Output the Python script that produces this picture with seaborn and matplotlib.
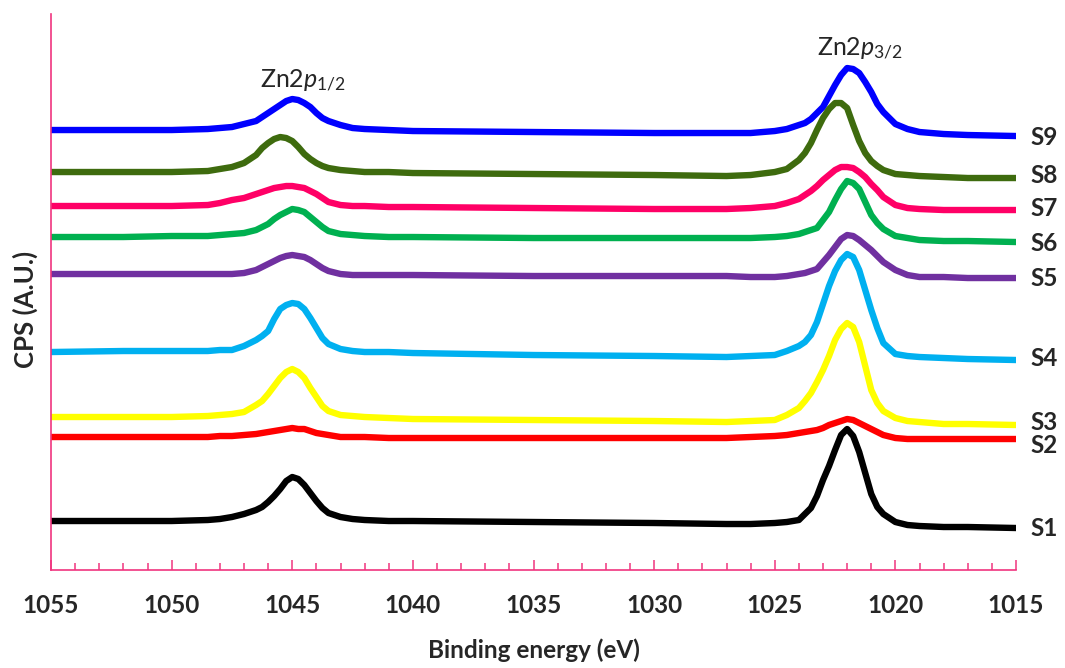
import matplotlib
matplotlib.use("Agg")
import matplotlib.pyplot as plt
import matplotlib.transforms as mtransforms
from matplotlib.ticker import MultipleLocator
import pandas as pd
import seaborn as sns

# Binding energy grid (eV), denser around the two Zn 2p peaks
energy = ([1055, 1052, 1050]
          + [1048.5, 1048, 1047.5, 1047, 1046.5, 1046.25, 1046, 1045.75, 1045.5,
             1045.25, 1045, 1044.75, 1044.5, 1044.25, 1044, 1043.75, 1043.5,
             1043, 1042.5, 1042, 1041]
          + [1040, 1035, 1030, 1027]
          + [1026, 1025, 1024.5, 1024, 1023.75, 1023.5, 1023.25, 1023, 1022.75,
             1022.5, 1022.25, 1022, 1021.75, 1021.5, 1021.25, 1021, 1020.75,
             1020.5, 1020, 1019.5]
          + [1019, 1018, 1017, 1015])

# Stacked XPS intensities (arbitrary units, offset per sample)
s1 = ([49, 49, 49]
      + [50, 51, 53, 56, 60, 63, 68, 74, 81, 89, 93, 91, 85, 77, 69, 62, 57, 53, 51, 50, 49]
      + [49, 48, 47, 46]
      + [46, 47, 48, 50, 56, 62, 74, 90, 104, 120, 135, 141, 134, 118, 97, 76, 63, 56, 48, 45]
      + [44, 43, 43, 42])
s2 = ([133, 133, 133]
      + [133, 134, 134, 135, 136, 137, 138, 139, 140, 141, 142, 141, 141, 139, 137, 136, 135, 133, 133, 133, 132]
      + [132, 132, 132, 132]
      + [133, 134, 135, 137, 138, 139, 140, 142, 145, 147, 149, 151, 150, 147, 144, 141, 138, 135, 132, 131]
      + [131, 131, 131, 131])
s3 = ([153, 153, 153]
      + [154, 155, 156, 158, 165, 169, 176, 184, 192, 198, 201, 198, 192, 182, 173, 164, 159, 155, 154, 153, 152]
      + [151, 150, 149, 148]
      + [149, 150, 155, 162, 169, 177, 188, 200, 214, 230, 241, 247, 243, 228, 204, 180, 167, 159, 152, 149]
      + [148, 146, 146, 145])
s4 = ([218, 219, 219]
      + [219, 220, 220, 224, 230, 234, 239, 251, 261, 265, 267, 266, 261, 252, 242, 232, 226, 221, 219, 218, 218]
      + [217, 215, 214, 213]
      + [214, 215, 219, 224, 228, 235, 248, 266, 284, 299, 310, 316, 313, 300, 280, 260, 242, 227, 216, 214]
      + [213, 212, 211, 210])
s5 = ([296, 296, 296]
      + [296, 296, 296, 297, 300, 303, 306, 309, 312, 314, 315, 314, 313, 310, 306, 302, 299, 296, 295, 295, 295]
      + [295, 294, 294, 294]
      + [293, 293, 294, 296, 297, 299, 301, 308, 315, 323, 331, 335, 334, 330, 325, 320, 314, 308, 300, 295]
      + [293, 293, 292, 292])
s6 = ([333, 333, 334]
      + [334, 335, 336, 337, 340, 343, 346, 351, 355, 358, 361, 360, 358, 353, 348, 343, 339, 336, 335, 334, 333]
      + [333, 332, 332, 332]
      + [332, 333, 334, 336, 338, 340, 342, 350, 358, 370, 381, 389, 387, 381, 368, 355, 347, 341, 334, 332]
      + [330, 329, 329, 328])
s7 = ([364, 364, 364]
      + [365, 367, 370, 372, 376, 378, 380, 382, 383, 384, 384, 383, 382, 379, 376, 372, 368, 365, 364, 364, 363]
      + [363, 362, 361, 361]
      + [362, 364, 367, 371, 375, 379, 384, 390, 395, 400, 403, 403, 402, 398, 393, 386, 380, 373, 365, 362]
      + [361, 360, 360, 360])
s8 = ([398, 398, 398]
      + [399, 401, 403, 407, 415, 422, 427, 431, 433, 432, 429, 423, 416, 411, 407, 404, 402, 400, 399, 398, 398]
      + [397, 396, 395, 394]
      + [395, 398, 401, 410, 417, 427, 440, 452, 461, 467, 467, 462, 445, 429, 417, 409, 404, 400, 396, 395]
      + [394, 393, 392, 392])
s9 = ([440, 440, 440]
      + [441, 442, 443, 446, 449, 453, 457, 461, 465, 469, 471, 470, 467, 463, 457, 452, 449, 445, 442, 441, 440]
      + [439, 438, 437, 437]
      + [437, 439, 441, 445, 447, 451, 457, 463, 474, 485, 495, 502, 501, 497, 488, 478, 466, 458, 446, 441]
      + [438, 436, 435, 434])

samples = ["S1", "S2", "S3", "S4", "S5", "S6", "S7", "S8", "S9"]
series = [s1, s2, s3, s4, s5, s6, s7, s8, s9]
colors = ["#000000", "#FF0000", "#FFFF00", "#00B0F0", "#7030A0",
          "#00B050", "#FF0066", "#3E6B0E", "#0000FF"]
# vertical position of each sample tag at the right-hand end
tag_y = [42, 125, 148, 212, 292, 327, 362, 395, 433]

peak_labels = ["Zn2$\\mathit{p}_{\\mathrm{1/2}}$", "Zn2$\\mathit{p}_{\\mathrm{3/2}}$"]
peak_pos = [(1044.55, 482), (1021.47, 514)]

sns.set_style("white")
plt.rcParams["font.family"] = ["Lato", "DejaVu Sans"]
plt.rcParams["mathtext.fontset"] = "custom"
plt.rcParams["mathtext.rm"] = "Lato"
plt.rcParams["mathtext.it"] = "Lato:italic"

df = pd.concat(
    [pd.DataFrame({"energy": energy, "cps": vals, "sample": name})
     for name, vals in zip(samples, series)],
    ignore_index=True,
)

fig = plt.figure(figsize=(10.65, 6.68), dpi=100)
ax = fig.add_axes([0.0479, 0.1467, 0.9061, 0.8323])

palette = dict(zip(samples, colors))
sns.lineplot(data=df, x="energy", y="cps", hue="sample",
             hue_order=samples[::-1], palette=palette, linewidth=4.6,
             legend=False, ax=ax, solid_joinstyle="round",
             solid_capstyle="round")

ax.set_xlim(1055, 1015)
ax.set_ylim(0, 556)

axis_pink = "#F0357F"
for side in ("top", "right"):
    ax.spines[side].set_visible(False)
for side in ("left", "bottom"):
    ax.spines[side].set_color(axis_pink)
    ax.spines[side].set_linewidth(1.2)

ax.xaxis.set_major_locator(MultipleLocator(5))
ax.xaxis.set_minor_locator(MultipleLocator(1))
ax.tick_params(axis="x", which="both", bottom=True, top=False)
ax.tick_params(axis="x", which="major", direction="in", length=7.5, width=1.1,
               color=axis_pink, pad=17, labelsize=17.5)
ax.tick_params(axis="x", which="minor", direction="in", length=5, width=1.1,
               color=axis_pink)
for lab in ax.get_xticklabels():
    lab.set_fontweight("bold")
ax.set_yticks([])

ax.set_xlabel("Binding energy (eV)", fontsize=17.5, fontweight="bold",
              labelpad=16)
ax.set_ylabel("CPS (A.U.)", fontsize=18.5, fontweight="bold")
ax.yaxis.set_label_coords(-0.0135, 0.468)

trans = mtransforms.blended_transform_factory(ax.transAxes, ax.transData)
for name, y in zip(samples, tag_y):
    ax.text(1.0145, y, name, transform=trans, ha="left", va="center",
            fontsize=17.5, fontweight="bold", clip_on=False)

for text, (x, y) in zip(peak_labels, peak_pos):
    ax.text(x, y, text, ha="center", va="baseline", fontsize=18)

fig.savefig("out.png", dpi=100, facecolor="white")
